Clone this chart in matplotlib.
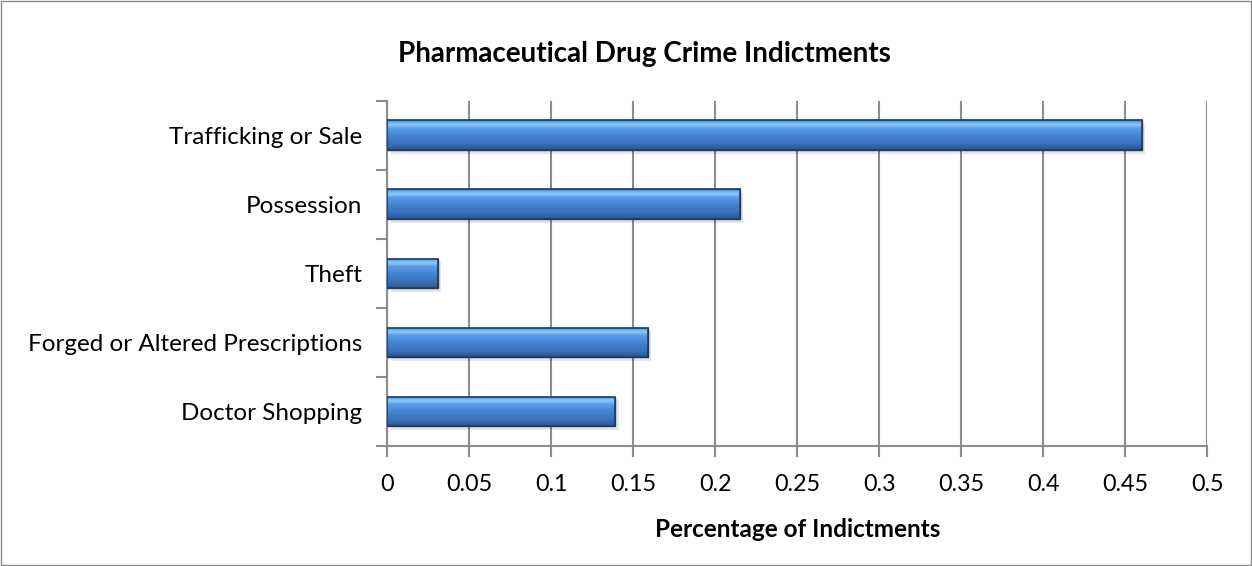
import numpy as np
import matplotlib
matplotlib.use("Agg")
import matplotlib.pyplot as plt
from matplotlib.colors import LinearSegmentedColormap
from matplotlib.patches import Rectangle

categories = ["Doctor Shopping", "Forged or Altered Prescriptions", "Theft", "Possession", "Trafficking or Sale"]
values = [0.139, 0.159, 0.031, 0.215, 0.460]
xticks = [0, 0.05, 0.1, 0.15, 0.2, 0.25, 0.3, 0.35, 0.4, 0.45, 0.5]
xtick_labels = ["0", "0.05", "0.1", "0.15", "0.2", "0.25", "0.3", "0.35", "0.4", "0.45", "0.5"]
title = "Pharmaceutical Drug Crime Indictments"
xlabel = "Percentage of Indictments"

plt.rcParams['font.family'] = ['Lato', 'DejaVu Sans']

fig = plt.figure(figsize=(12.52, 5.66), dpi=100)
fig.patches.append(Rectangle((0.0008, 0.001), 0.9984, 0.997, transform=fig.transFigure,
                             fill=False, edgecolor="#8c8c8c", linewidth=1.0))
ax = fig.add_axes([0.3094, 0.212, 0.655, 0.610])

y = np.arange(len(categories))
bars = ax.barh(y, values, height=0.43, color="#4783cc", edgecolor="#1f3c66", linewidth=1.0, zorder=3)

cmap = LinearSegmentedColormap.from_list("bev", [
    (0.0, "#2a5590"), (0.2, "#3870b8"), (0.5, "#4486d4"), (0.72, "#5a9ce6"),
    (0.84, "#8ac8fc"), (0.93, "#68aaf2"), (1.0, "#3d78c4")])
grad = np.linspace(0, 1, 256).reshape(-1, 1)
for b in bars:
    x0, y0 = b.get_x(), b.get_y()
    w, h = b.get_width(), b.get_height()
    # shadow
    ax.add_patch(Rectangle((x0 + 0.002, y0 - 0.05), w, h, facecolor="#000000", alpha=0.10,
                           edgecolor="none", zorder=2))
    im = ax.imshow(grad, extent=(x0, x0 + w, y0, y0 + h), origin="lower", cmap=cmap,
                   aspect="auto", zorder=3.5, interpolation="bilinear")
    im.set_clip_path(b)
    ax.add_patch(Rectangle((x0, y0), w, h, fill=False, edgecolor="#1f3c66", linewidth=1.2, zorder=4))

ax.set_xlim(0, 0.5)
ax.set_ylim(-0.5, len(categories) - 0.5)
ax.set_xticks(xticks)
ax.set_xticklabels(xtick_labels, fontsize=16.8)
ax.set_yticks(np.arange(-0.5, len(categories), 1.0))
ax.set_yticklabels([])
ax.set_yticks(y, minor=True)
ax.set_yticklabels(categories, minor=True, fontsize=17.5)
ax.tick_params(axis="y", which="minor", length=0, pad=18)
ax.tick_params(axis="y", which="major", length=8, width=1.5, color="#8c8c8c", direction="out")
ax.tick_params(axis="x", length=8, width=1.5, color="#8c8c8c", direction="out", pad=12)
ax.grid(axis="x", color="#8c8c8c", linewidth=1.5, zorder=0)
ax.set_axisbelow(True)
for s in ["top", "right"]:
    ax.spines[s].set_visible(False)
for s in ["left", "bottom"]:
    ax.spines[s].set_color("#8c8c8c")
    ax.spines[s].set_linewidth(1.5)

ax.set_xlabel(xlabel, fontsize=17.5, fontweight="bold", labelpad=17)
fig.text(0.515, 0.904, title, ha="center", va="center", fontsize=20, fontweight="bold")

fig.savefig("out.png", dpi=100)
